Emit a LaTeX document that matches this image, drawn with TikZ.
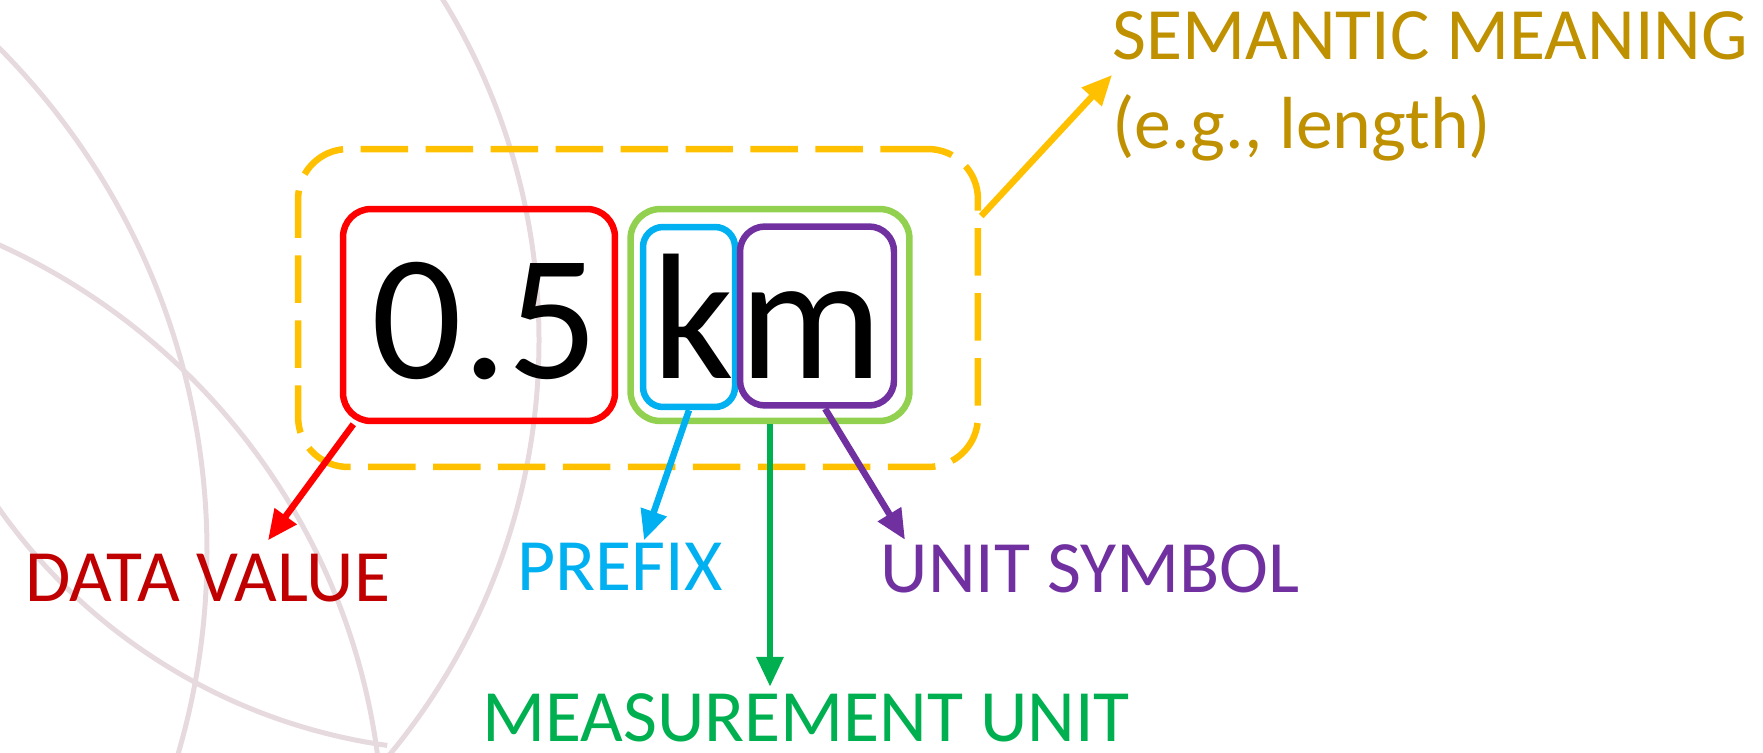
\documentclass[tikz,border=0pt]{standalone}
\usepackage{fontspec}
\setmainfont{Carlito}
\usetikzlibrary{arrows.meta,positioning}
\definecolor{valred}{HTML}{FF0000}
\definecolor{valdark}{HTML}{C00000}
\definecolor{pfxblue}{HTML}{00B0F0}
\definecolor{sympurple}{HTML}{7030A0}
\definecolor{unitgreen}{HTML}{00B050}
\definecolor{boxgreen}{HTML}{92D050}
\definecolor{semgold}{HTML}{BF9000}
\definecolor{semyellow}{HTML}{FFC000}
\definecolor{arcgrey}{RGB}{231,218,223}
\tikzset{
	tagbox/.style={draw, line width=0.13cm, inner sep=0},
	glyph/.style={inner sep=0, anchor=base, font=\fontsize{102}{110}\selectfont},
	tag/.style={inner sep=0, font=\fontsize{42}{50}\selectfont},
	pointer/.style={-{Triangle[length=0.6cm,width=0.52cm]}, line width=0.13cm},
	arcline/.style={draw=arcgrey, line width=0.1cm},
}
\begin{document}
\begin{tikzpicture}[x=0.02cm, y=0.02cm]
				\useasboundingbox (0,0) rectangle (1763,752);
				% background arcs
				\begin{scope}
					\clip (0,0) rectangle (1763,752);
					\draw[arcline] (-508,200) circle[radius=715];
					\draw[arcline] (-111,412) circle[radius=650];
					\draw[arcline] (-270,-88) circle[radius=653];
					\draw[arcline] (467,574) ++(212:573) arc[start angle=212, end angle=262, radius=573];
				\end{scope}
				
				% boxes round the quantity
				\node[tagbox, draw=semyellow, line width=0.13cm, dash pattern=on 0.95cm off 0.35cm, rounded corners=1cm,
					minimum width=13.6cm, minimum height=6.36cm] (meaning) at (638,444) {};
				\node[tagbox, draw=valred, rounded corners=0.56cm, minimum width=5.44cm, minimum height=4.24cm] (val) at (479,437) {};
				\node[tagbox, draw=boxgreen, rounded corners=0.6cm, minimum width=5.58cm, minimum height=4.24cm] (unit) at (770,437) {};
				\node[tagbox, draw=pfxblue, rounded corners=0.4cm, minimum width=1.84cm, minimum height=3.6cm] (pre) at (689,435) {};
				\node[tagbox, draw=sympurple, rounded corners=0.5cm, minimum width=3.08cm, minimum height=3.58cm] (sym) at (817,436) {};
				\node[glyph] (num) at (485,374) {0.5};
				\node[glyph] (kay) at (693,374) {k};
				\node[glyph] (em) at (811,374) {m};
				
				% labels
				\node[tag, text=valdark, anchor=base] (dval) at (208,151) {DATA VALUE};
				\node[tag, text=pfxblue, anchor=base] (pfx) at (620,162) {PREFIX};
				\node[tag, text=sympurple, anchor=base] (usym) at (1090,160) {UNIT SYMBOL};
				\node[tag, text=unitgreen, anchor=base] (munit) at (806,11) {MEASUREMENT UNIT};
				\node[tag, text=semgold, anchor=base west] (sem) at (1112,692) {SEMANTIC MEANING};
				\node[tag, text=semgold, anchor=base west] (eg) at (1112,604) {(e.g., length)};
				
				% arrows
				\draw[pointer, valred] (val.221.5) -- ([shift={(60,13)}]dval.north);
				\draw[pointer, pfxblue] (pre.south) -- ([shift={(24,2)}]pfx.north);
				\draw[pointer, sympurple] (sym.-85.5) -- ([shift={(-185,4)}]usym.north);
				\draw[pointer, unitgreen] (unit.south) -- ([yshift=0.12cm]munit.north -| unit.south);
				\draw[pointer, semyellow] (meaning.15.8) -- ([yshift=-0.3cm]sem.base west);
\end{tikzpicture}
\end{document}
